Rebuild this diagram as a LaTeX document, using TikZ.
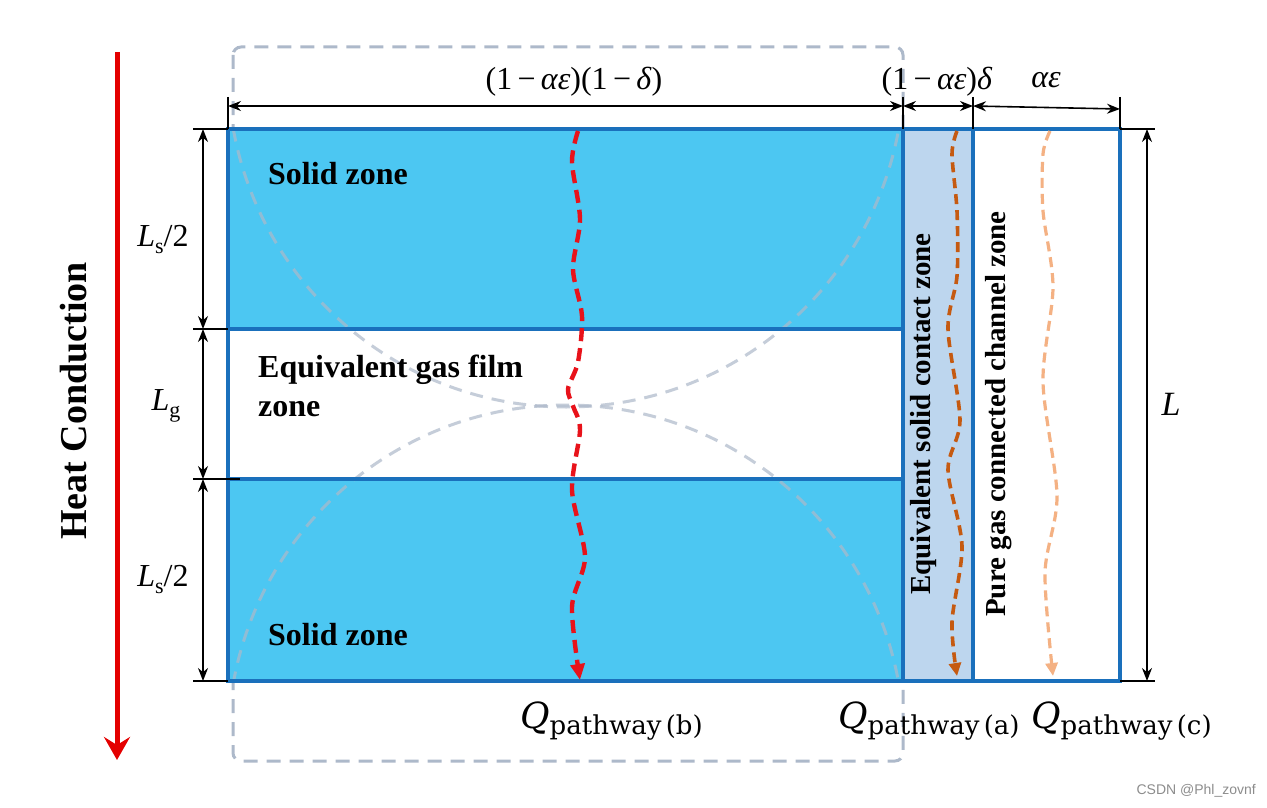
\documentclass[tikz,border=0pt]{standalone}
\usepackage{fontspec}
\setmainfont{Liberation Serif}
\newfontfamily\qfont{DejaVu Serif}
\newfontfamily\wmfont{Liberation Sans}
\usetikzlibrary{arrows.meta}
\definecolor{solidblue}{RGB}{76,199,242}
\definecolor{contactblue}{RGB}{189,214,238}
\definecolor{borderblue}{RGB}{26,112,188}
\definecolor{boxgray}{RGB}{173,185,202}
\definecolor{pathred}{RGB}{232,18,26}
\definecolor{heatred}{RGB}{228,0,0}
\definecolor{pathbrown}{RGB}{197,90,17}
\definecolor{pathorange}{RGB}{244,177,131}
\newcommand{\qlab}[1]{{\qfont\fontsize{36}{40}\selectfont\itshape Q}\raisebox{-6pt}{\qfont\fontsize{26}{30}\selectfont pathway\,(#1)}}
\newcommand{\lsub}[1]{{\itshape L}\raisebox{-7pt}{\fontsize{22}{24}\selectfont #1}}
\begin{document}
\begin{tikzpicture}[x=1pt,y=-1pt,
  zonetxt/.style={font=\fontsize{32}{36}\selectfont\bfseries, anchor=base west, inner sep=0pt},
  vtxt/.style={font=\fontsize{29}{32}\selectfont\bfseries, rotate=90, inner sep=0pt},
  dimtxt/.style={font=\fontsize{32}{36}\selectfont, inner sep=0pt},
  dimarrow/.style={line width=1.6pt, {Stealth[length=13pt,width=10pt]}-{Stealth[length=13pt,width=10pt]}},
  ext/.style={line width=1.6pt},
  blueline/.style={draw=borderblue, line width=3.2pt},
  arcline/.style={draw=boxgray, draw opacity=0.7, line width=3pt, dash pattern=on 13pt off 9pt},
  graybox/.style={draw=boxgray, line width=3pt, dash pattern=on 14pt off 9pt, rounded corners=8pt},
  qtxt/.style={anchor=base west, inner sep=0pt}
]
\useasboundingbox (0,0) rectangle (1267,808);

% named coordinates
\coordinate (TL) at (228,129);
\coordinate (BR) at (903,681);

% gray dashed particle box (behind)
\draw[graybox] (233,47) rectangle (903,761);

% fills
\fill[solidblue] (228,129) rectangle (903,329);
\fill[solidblue] (228,479) rectangle (903,681);
\fill[white] (228,329) rectangle (903,479);
\fill[contactblue] (903,129) rectangle (973,681);
\fill[white] (973,129) rectangle (1120,681);

% sphere arcs
\begin{scope}
  \clip (228,129) rectangle (903,681);
  \draw[arcline] (566,69) circle[radius=338pt];
  \draw[arcline] (566,743) circle[radius=338pt];
\end{scope}

% zone borders
\draw[blueline] (228,129) rectangle (1120,681);
\draw[blueline] (228,329) -- (903,329);
\draw[blueline] (228,479) -- (903,479);
\draw[blueline] (903,129) -- (903,681);
\draw[blueline] (973,129) -- (973,681);

% heat pathways
\draw[pathred, line width=4.4pt, dash pattern=on 13pt off 7pt, -{Triangle[length=16pt,width=14pt]}]
  plot[smooth] coordinates {(578,131) (572,162) (580,219) (573,269) (582,316) (578,362) (568,389) (573,406) (580,430) (572,490) (585,557) (572,607) (580,680)};
\draw[pathbrown, line width=3.6pt, dash pattern=on 10pt off 6pt, -{Triangle[length=13pt,width=12pt]}]
  plot[smooth] coordinates {(957,131) (952,154) (957,211) (957,276) (948,329) (960,420) (948,470) (962,546) (952,622) (957,676)};
\draw[pathorange, line width=3.2pt, dash pattern=on 10pt off 6pt, -{Triangle[length=13pt,width=12pt]}]
  plot[smooth] coordinates {(1050,131) (1043,154) (1043,211) (1053,287) (1043,382) (1057,496) (1045,573) (1053,676)};

% extension lines
\draw[ext] (228,97) -- (228,129);
\draw[ext] (903,97) -- (903,129);
\draw[ext] (973,97) -- (973,129);
\draw[ext] (1120,97) -- (1120,129);
\draw[ext] (193,129) -- (228,129);
\draw[ext] (193,329) -- (228,329);
\draw[ext] (193,479) -- (240,479);
\draw[ext] (193,681) -- (228,681);
\draw[ext] (1120,129) -- (1155,129);
\draw[ext] (1120,681) -- (1155,681);

% dimension arrows
\coordinate (t0) at (228,106); \coordinate (t1) at (903,106);
\coordinate (t2) at (973,106); \coordinate (t3) at (1120,109);
\draw[dimarrow] (t0) -- (t1);
\draw[dimarrow] (t1) -- (t2);
\draw[dimarrow] (t2) -- (t3);
\coordinate (l0) at (203,129); \coordinate (l1) at (203,329);
\coordinate (l2) at (203,479); \coordinate (l3) at (203,681);
\draw[dimarrow] (l0) -- (l1);
\draw[dimarrow] (l1) -- (l2);
\draw[dimarrow] (l2) -- (l3);
\coordinate (r0) at (1147,129); \coordinate (r1) at (1147,681);
\draw[dimarrow] (r0) -- (r1);

% heat conduction arrow
\coordinate (h0) at (117,52); \coordinate (h1) at (117,760);
\draw[heatred, line width=5pt, -{Stealth[length=23pt,width=26pt,inset=8pt]}] (h0) -- (h1);
\node[rotate=90, font=\fontsize{38}{40}\selectfont\bfseries, inner sep=0pt] (hc) at (74,401) {Heat Conduction};

% dimension labels
\node[dimtxt] (d1) at (574,82) {(1\,−\,\textit{αε})(1\,−\,\textit{δ})};
\node[dimtxt] (d2) at (937,82) {(1\,−\,\textit{αε})\textit{δ}};
\node[dimtxt] (d3) at (1046,80) {\textit{αε}};
\node[dimtxt] (ls1) at (163,240) {\lsub{s}/2};
\node[dimtxt] (lg) at (166,406) {\lsub{g}};
\node[dimtxt] (ls2) at (163,580) {\lsub{s}/2};
\node[dimtxt, font=\fontsize{34}{36}\selectfont\itshape] (ll) at (1171,404) {L};

% zone labels
\node[zonetxt] (sz1) at (268,184) {Solid zone};
\node[zonetxt] (gz1) at (258,377) {Equivalent gas film};
\node[zonetxt] (gz2) at (258,416) {zone};
\node[zonetxt] (sz2) at (268,645) {Solid zone};
\node[vtxt] (cz) at (924,414) {Equivalent solid contact zone};
\node[vtxt] (pz) at (999,414) {Pure gas connected channel zone};

% pathway labels
\node[qtxt] (qb) at (520,728) {\qlab{b}};
\node[qtxt] (qa) at (838,728) {\qlab{a}};
\node[qtxt] (qc) at (1031,728) {\qlab{c}};

% watermark
\node[anchor=east, inner sep=0pt, text=black!45, font=\wmfont\fontsize{14}{16}\selectfont] (wm) at (1256,791) {CSDN @Phl\_zovnf};
\end{tikzpicture}
\end{document}
